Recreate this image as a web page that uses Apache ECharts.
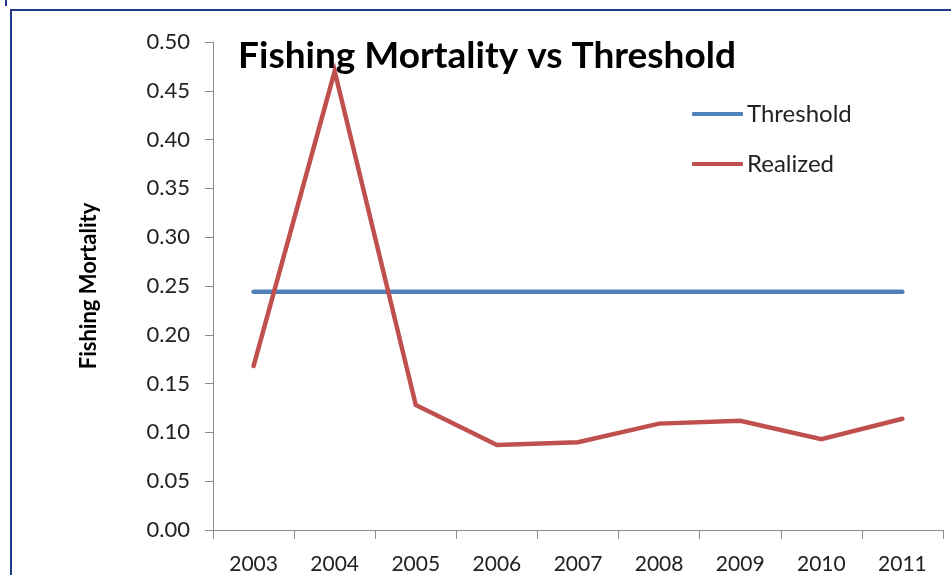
<!DOCTYPE html>
<html>
<head>
<meta charset="utf-8">
<title>Fishing Mortality vs Threshold</title>
<script src="https://cdn.jsdelivr.net/npm/echarts@6/dist/echarts.min.js"></script>
<style>
  html, body { margin: 0; padding: 0; background: #fff; }
  #chart { width: 951px; height: 575px; }
</style>
</head>
<body>
<div id="chart"></div>
<script>
// Fishing mortality by year, compared with the management threshold
const years = ['2003', '2004', '2005', '2006', '2007', '2008', '2009', '2010', '2011'];
const thresholdValues = [0.244, 0.244, 0.244, 0.244, 0.244, 0.244, 0.244, 0.244, 0.244];
const realizedValues = [0.168, 0.470, 0.128, 0.087, 0.090, 0.109, 0.112, 0.093, 0.114];
const yTicks = { min: 0, max: 0.5, step: 0.05 };

const FONT = 'Lato, "Open Sans", sans-serif';
const frameColor = '#22398a';

const chart = echarts.init(document.getElementById('chart'), null, { renderer: 'canvas' });

chart.setOption({
  animation: false,
  backgroundColor: '#ffffff',
  title: {
    text: 'Fishing Mortality vs Threshold',
    left: 487,
    textAlign: 'center',
    top: 38,
    padding: 0,
    textStyle: { fontFamily: FONT, fontWeight: 'bold', fontSize: 37, color: '#000000' }
  },
  legend: {
    orient: 'vertical',
    left: 692,
    top: 102,
    padding: 0,
    itemWidth: 51,
    itemHeight: 4,
    itemGap: 26,
    icon: 'roundRect',
    textStyle: { fontFamily: FONT, fontSize: 24, color: '#222222', padding: [0, 0, 0, -1] },
    data: ['Threshold', 'Realized']
  },
  grid: { left: 213, top: 42, right: 8, bottom: 44, containLabel: false },
  xAxis: {
    type: 'category',
    data: years,
    boundaryGap: true,
    axisLine: { lineStyle: { color: '#8c8c8c', width: 1 } },
    axisTick: { show: true, length: 9, lineStyle: { color: '#8c8c8c' } },
    axisLabel: { fontFamily: FONT, fontSize: 21, color: '#222222', margin: 24 },
    splitLine: { show: false }
  },
  yAxis: {
    type: 'value',
    min: yTicks.min,
    max: yTicks.max,
    interval: yTicks.step,
    name: 'Fishing Mortality',
    nameLocation: 'middle',
    nameGap: 113,
    nameRotate: 90,
    nameTextStyle: { fontFamily: FONT, fontWeight: 'bold', fontSize: 22, color: '#000000' },
    axisLine: { show: true, lineStyle: { color: '#8c8c8c', width: 1 } },
    axisTick: { show: true, length: 8, lineStyle: { color: '#8c8c8c' } },
    axisLabel: {
      fontFamily: FONT, fontSize: 22, color: '#222222', margin: 23,
      formatter: v => v.toFixed(2)
    },
    splitLine: { show: false }
  },
  series: [
    {
      name: 'Threshold',
      type: 'line',
      data: thresholdValues,
      showSymbol: false,
      symbol: 'none',
      itemStyle: { color: '#4f81bd' },
      lineStyle: { color: '#4f81bd', width: 4.5, cap: 'round' },
      z: 2
    },
    {
      name: 'Realized',
      type: 'line',
      data: realizedValues,
      showSymbol: false,
      symbol: 'none',
      itemStyle: { color: '#c0504d' },
      lineStyle: { color: '#c0504d', width: 4.5, cap: 'round', join: 'miter' },
      z: 3
    }
  ],
  graphic: [
    { type: 'rect', shape: { x: 10, y: 9, width: 960, height: 2 }, style: { fill: frameColor }, silent: true },
    { type: 'rect', shape: { x: 10, y: 9, width: 2, height: 600 }, style: { fill: frameColor }, silent: true },
    { type: 'rect', shape: { x: 5, y: 0, width: 2, height: 6 }, style: { fill: frameColor }, silent: true }
  ]
});
</script>
</body>
</html>
